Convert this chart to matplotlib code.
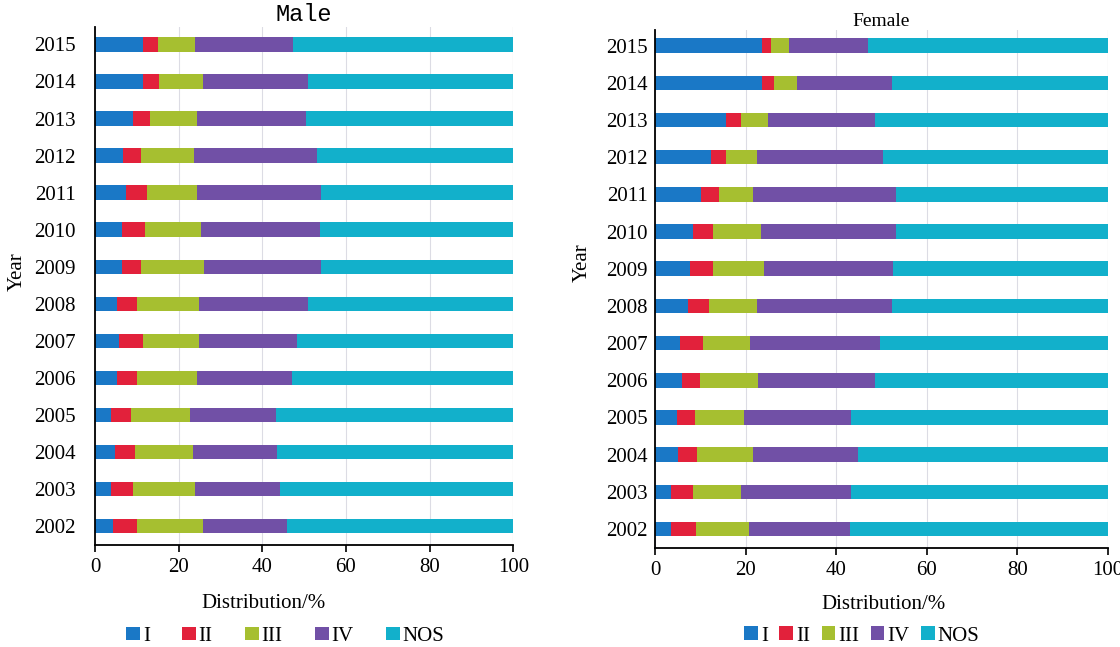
"""Stage distribution by year, male vs female (stacked horizontal bars)."""

import matplotlib

matplotlib.use("Agg")
import matplotlib.pyplot as plt
import numpy as np

plt.rcParams["font.family"] = ["Liberation Serif", "DejaVu Serif"]

years = [2002, 2003, 2004, 2005, 2006, 2007, 2008, 2009, 2010, 2011, 2012, 2013, 2014, 2015]
stages = ["I", "II", "III", "IV", "NOS"]
colors = ["#1a78c6", "#e2213b", "#a6bf30", "#7150a6", "#12b0cb"]

# percentages, rows ordered 2002 -> 2015
male_I = [4.4, 3.8, 4.8, 3.8, 5.3, 5.8, 5.3, 6.4, 6.4, 7.4, 6.7, 9.1, 11.5, 11.5]
male_II = [5.6, 5.4, 4.8, 4.9, 4.7, 5.7, 4.7, 4.6, 5.5, 5.0, 4.3, 4.1, 3.9, 3.5]
male_III = [15.8, 14.8, 13.8, 13.9, 14.4, 13.3, 14.8, 15.1, 13.5, 12.0, 12.6, 11.2, 10.4, 9.0]
male_IV = [20.1, 20.3, 20.1, 20.7, 22.7, 23.5, 26.2, 28.0, 28.3, 29.7, 29.4, 26.1, 25.2, 23.3]
male_NOS = [54.1, 55.7, 56.5, 56.7, 52.9, 51.7, 49.0, 45.9, 46.3, 45.9, 47.0, 49.5, 49.0, 52.7]

female_I = [3.5, 3.5, 5.0, 4.8, 6.0, 5.5, 7.4, 7.7, 8.5, 10.2, 12.4, 15.7, 23.6, 23.6]
female_II = [5.5, 5.0, 4.2, 4.0, 3.9, 5.0, 4.6, 5.2, 4.4, 3.9, 3.3, 3.2, 2.8, 2.0]
female_III = [11.8, 10.5, 12.5, 10.9, 12.9, 10.5, 10.6, 11.2, 10.5, 7.6, 6.8, 6.0, 4.9, 4.0]
female_IV = [22.3, 24.4, 23.1, 23.7, 25.8, 28.6, 29.7, 28.5, 29.8, 31.5, 27.9, 23.7, 21.0, 17.5]
female_NOS = [56.9, 56.6, 55.2, 56.6, 51.4, 50.4, 47.7, 47.4, 46.8, 46.8, 49.6, 51.4, 47.7, 52.9]


def draw_panel(ax, series, title, title_font, title_pad, ylim, ytick_pad, ylabel_xy,
               xlabel_xy, legend_spacing, legend_anchor):
    y = np.arange(len(years))
    left = np.zeros(len(years))
    for vals, name, col in zip(series, stages, colors):
        ax.barh(y, vals, left=left, height=0.39, color=col, label=name, zorder=2)
        left += np.array(vals)

    ax.set_xlim(0, 100)
    ax.set_ylim(*ylim)
    ax.set_yticks(y)
    ax.set_yticklabels([str(v) for v in years], fontsize=15)
    ax.set_xticks([0, 20, 40, 60, 80, 100])
    ax.tick_params(axis="x", labelsize=15, length=5, width=1.2, pad=4)
    ax.tick_params(axis="y", length=0, pad=ytick_pad)
    for s in ("top", "right"):
        ax.spines[s].set_visible(False)
    for s in ("left", "bottom"):
        ax.spines[s].set_linewidth(1.3)
    ax.grid(axis="x", color="#dcdce4", linewidth=0.8, zorder=0)
    ax.axvline(100, color="#dcdce4", linewidth=0.8, zorder=0)

    ax.set_title(title, pad=title_pad, **title_font)
    ax.set_ylabel("Year", fontsize=15)
    ax.yaxis.set_label_coords(*ylabel_xy)
    ax.set_xlabel("Distribution/%", fontsize=15)
    ax.xaxis.set_label_coords(*xlabel_xy)

    ax.legend(loc="center", bbox_to_anchor=legend_anchor, ncol=5, frameon=False,
              fontsize=15, handlelength=0.65, handleheight=0.65, handletextpad=0.15,
              columnspacing=legend_spacing, borderpad=0)


fig = plt.figure(figsize=(11.2, 6.47), dpi=100)
ax_m = fig.add_axes([0.0848, 0.1576, 0.3735, 0.8007])
ax_f = fig.add_axes([0.5848, 0.1530, 0.4042, 0.8006])

draw_panel(ax_m, [male_I, male_II, male_III, male_IV, male_NOS], "Male",
           {"family": ["Liberation Mono", "DejaVu Sans Mono"], "fontsize": 17},
           4, (-0.51, 13.47), 14, (-0.163, 0.527), (0.402, -0.095),
           1.55, (0.455, -0.176))
draw_panel(ax_f, [female_I, female_II, female_III, female_IV, female_NOS], "Female",
           {"fontsize": 14}, 1, (-0.51, 13.42), 5, (-0.139, 0.55), (0.504, -0.09),
           0.55, (0.457, -0.17))

fig.savefig("out.png", dpi=100)
